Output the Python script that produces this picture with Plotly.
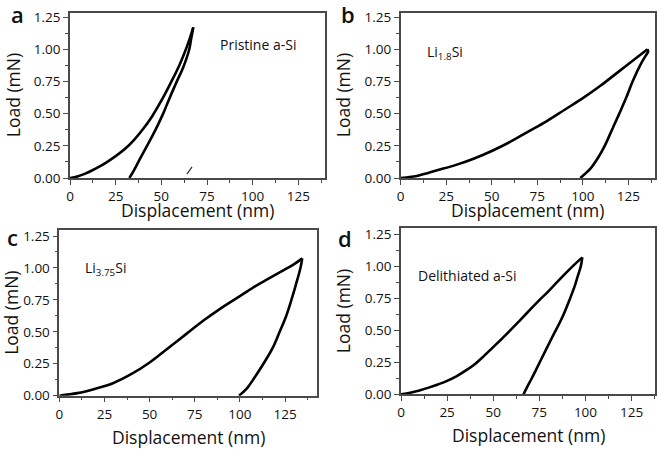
import plotly.graph_objects as go

# Panel a: Pristine a-Si
a_load_x = [0, 4, 8, 12, 16, 20, 25, 30, 35, 40, 45, 50, 55, 60, 64, 67.5]
a_load_y = [0, 0.012, 0.032, 0.058, 0.088, 0.122, 0.17, 0.225, 0.295, 0.38, 0.48, 0.6, 0.735, 0.88, 1.02, 1.17]
a_unl_x = [67.5, 66.3, 65.3, 62, 58.5, 54.5, 51, 47, 42, 38, 35, 32.5]
a_unl_y = [1.17, 1.08, 1.0, 0.86, 0.75, 0.62, 0.5, 0.38, 0.245, 0.14, 0.06, 0.0]
a_mark_x = [64.0, 66.8]
a_mark_y = [0.03, 0.087]

# Panel b: Li1.8Si
b_load_x = [0, 10, 20, 30, 40, 50, 60, 70, 80, 90, 100, 110, 120, 130, 135.5]
b_load_y = [0, 0.02, 0.06, 0.1, 0.15, 0.21, 0.28, 0.36, 0.44, 0.53, 0.62, 0.72, 0.83, 0.94, 1.0]
b_unl_x = [135.5, 135.8, 134.5, 132, 127.3, 124, 120, 116, 112, 108, 104, 98.6]
b_unl_y = [1.0, 0.98, 0.95, 0.89, 0.75, 0.63, 0.5, 0.375, 0.25, 0.15, 0.07, 0.0]

# Panel c: Li3.75Si
c_load_x = [0, 10, 20, 30, 40, 50, 60, 70, 80, 90, 100, 110, 120, 130, 134.5]
c_load_y = [0, 0.02, 0.055, 0.1, 0.17, 0.26, 0.37, 0.48, 0.59, 0.69, 0.78, 0.87, 0.95, 1.03, 1.075]
c_unl_x = [134.5, 133.5, 131, 128.5, 125.5, 122, 118, 113, 108, 104, 99.5]
c_unl_y = [1.075, 1.0, 0.87, 0.75, 0.62, 0.5, 0.37, 0.25, 0.14, 0.06, 0.0]

# Panel d: Delithiated a-Si
d_load_x = [0, 5, 10, 15, 20, 25, 30, 35, 40, 45, 50, 55, 60, 65, 70, 75, 80, 85, 90, 95, 98.3]
d_load_y = [0, 0.012, 0.03, 0.052, 0.077, 0.105, 0.14, 0.184, 0.235, 0.3, 0.368, 0.438, 0.51, 0.585,
            0.66, 0.735, 0.805, 0.88, 0.955, 1.025, 1.068]
d_unl_x = [98.3, 97.5, 96, 94.4, 91.7, 87.2, 81.7, 76.3, 70.9, 68.5, 66.4]
d_unl_y = [1.068, 1.0, 0.93, 0.853, 0.749, 0.593, 0.437, 0.281, 0.125, 0.06, 0.0]

x_ticks = [0, 25, 50, 75, 100, 125]
y_ticks = [0.0, 0.25, 0.5, 0.75, 1.0, 1.25]
y_tick_text = ["0.00", "0.25", "0.50", "0.75", "1.00", "1.25"]

panel_letters = ["a", "b", "c", "d"]
panel_labels = ["Pristine a-Si", "Li<sub>1.8</sub>Si", "Li<sub>3.75</sub>Si", "Delithiated a-Si"]
x_title = "Displacement (nm)"
y_title = "Load (mN)"

W, H = 661, 450
FONT = "Open Sans"

# pixel boxes: left, right, top, bottom
boxes = [(70, 325, 12.5, 178), (400.7, 655, 12.5, 178),
         (59.3, 316.7, 230, 395.7), (401, 655, 228, 394.3)]
xmax = [139.6, 139.6, 142.5, 137.7]
ymax = [1.285, 1.285, 1.297, 1.297]

fig = go.Figure()
data = [
    (a_load_x, a_load_y, a_unl_x, a_unl_y),
    (b_load_x, b_load_y, b_unl_x, b_unl_y),
    (c_load_x, c_load_y, c_unl_x, c_unl_y),
    (d_load_x, d_load_y, d_unl_x, d_unl_y),
]
for i, (lx, ly, ux, uy) in enumerate(data):
    sfx = "" if i == 0 else str(i + 1)
    for xs, ys in ((lx, ly), (ux, uy)):
        fig.add_trace(go.Scatter(x=xs, y=ys, mode="lines", line=dict(color="black", width=2.6, shape="spline", smoothing=1.0),
                                 xaxis="x" + sfx, yaxis="y" + sfx, showlegend=False, hoverinfo="skip"))
fig.add_trace(go.Scatter(x=a_mark_x, y=a_mark_y, mode="lines", line=dict(color="#333", width=1.2),
                         xaxis="x", yaxis="y", showlegend=False, hoverinfo="skip"))

layout = dict(width=W, height=H, margin=dict(l=0, r=0, t=0, b=0), paper_bgcolor="white", plot_bgcolor="white",
              font=dict(family=FONT, color="#111"), showlegend=False)

annotations = []
for i, (l, r, t, b) in enumerate(boxes):
    sfx = "" if i == 0 else str(i + 1)
    xd = [l / W, r / W]
    yd = [1 - b / H, 1 - t / H]
    axcommon = dict(showline=True, linecolor="#4a4a4a", linewidth=1.5, mirror=True, showgrid=False, zeroline=False,
                    automargin=False, ticks="outside", ticklen=5, tickwidth=1.3, tickcolor="#4a4a4a",
                    tickfont=dict(family=FONT, size=13.5, color="#111", weight=500))
    layout["xaxis" + sfx] = dict(domain=xd, range=[0, xmax[i]], anchor="y" + sfx, tickvals=x_ticks,
                                 minor=dict(dtick=12.5, tick0=0, ticks="outside", ticklen=3, tickcolor="#4a4a4a", tickwidth=1.2),
                                 **axcommon)
    layout["yaxis" + sfx] = dict(domain=yd, range=[0, ymax[i]], anchor="x" + sfx, tickvals=y_ticks, ticktext=y_tick_text,
                                 minor=dict(dtick=0.125, tick0=0, ticks="outside", ticklen=3, tickcolor="#4a4a4a", tickwidth=1.2),
                                 **axcommon)

# axis titles and labels as paper annotations (pixel positions)
xt_y = [210, 210, 436.5, 435]
yt_x = [13, 343, 11, 343]
letter_pos = [(17, 14), (348, 14), (12, 237), (345, 238)]
label_pos = [(218, 45), (425, 53), (83, 268), (416, 275)]
for i, (l, r, t, b) in enumerate(boxes):
    annotations.append(dict(x=(l + r) / 2 / W, y=1 - xt_y[i] / H, xref="paper", yref="paper", text=x_title,
                            showarrow=False, font=dict(family=FONT, size=17.5, color="#111", weight=500), xanchor="center", yanchor="middle"))
    annotations.append(dict(x=yt_x[i] / W, y=1 - (t + b) / 2 / H, xref="paper", yref="paper", text=y_title, textangle=-90,
                            showarrow=False, font=dict(family=FONT, size=17.5, color="#111", weight=500), xanchor="center", yanchor="middle"))
    lx, ly = letter_pos[i]
    annotations.append(dict(x=lx / W, y=1 - ly / H, xref="paper", yref="paper", text=panel_letters[i],
                            showarrow=False, font=dict(family=FONT, size=22, color="#111", weight=600), xanchor="center", yanchor="middle"))
    px, py = label_pos[i]
    annotations.append(dict(x=px / W, y=1 - py / H, xref="paper", yref="paper", text=panel_labels[i],
                            showarrow=False, font=dict(family=FONT, size=14, color="#111", weight=500), xanchor="left", yanchor="middle"))
layout["annotations"] = annotations
fig.update_layout(**layout)
fig.write_html("out.html", config={"displayModeBar": False},
               post_script="document.body.style.margin='0';document.body.style.padding='0';")
